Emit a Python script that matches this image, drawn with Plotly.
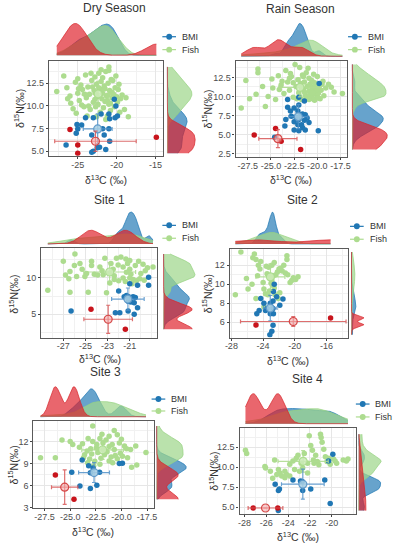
import numpy as np
import plotly.graph_objects as go

# ---------------- data ----------------
panel_titles = ["Dry Season", "Rain Season", "Site 1", "Site 2", "Site 3", "Site 4"]
legend_names = ["BMI", "Fish"]

# (d13C, d15N) pairs
dry_bmi = [(-20.3, 10.75), (-20.1, 10.0), (-19.9, 8.9), (-20.2, 8.7), (-21.0, 9.1), (-22.0, 9.1),
           (-23.0, 8.7), (-24.0, 8.7), (-20.9, 8.6), (-25.1, 7.95), (-24.5, 7.9), (-25.0, 7.45),
           (-25.2, 7.0), (-21.8, 7.5), (-21.0, 7.5), (-23.2, 6.8), (-21.6, 6.8), (-20.9, 6.1),
           (-26.5, 5.7), (-22.5, 5.4), (-22.2, 5.45), (-23.0, 5.0), (-21.4, 5.2), (-23.2, 4.9)]
dry_fish = [(-27.7, 11.6), (-26.8, 13.3), (-26.4, 12.0), (-26.0, 11.1), (-25.9, 10.3), (-25.6, 9.7),
            (-25.3, 12.6), (-25.0, 13.0), (-25.0, 11.4), (-24.8, 10.6), (-24.6, 12.3), (-24.4, 11.8),
            (-24.2, 9.9), (-24.0, 13.4), (-23.9, 10.9), (-23.7, 12.1), (-23.5, 11.3), (-23.4, 9.6),
            (-23.2, 12.8), (-23.0, 10.4), (-22.9, 11.7), (-22.8, 13.2), (-22.7, 9.9), (-22.6, 12.4),
            (-22.5, 11.0), (-22.4, 10.2), (-22.3, 13.6), (-22.2, 11.9), (-22.1, 9.3), (-22.0, 12.7),
            (-21.9, 10.8), (-21.8, 13.1), (-21.8, 11.4), (-21.7, 9.8), (-21.6, 12.2), (-21.5, 10.5),
            (-21.4, 13.8), (-21.3, 11.1), (-21.2, 8.9), (-21.1, 12.5), (-21.0, 14.3), (-21.0, 13.9),
            (-21.0, 10.2), (-20.9, 11.7), (-20.8, 9.5), (-20.7, 12.9), (-20.6, 10.9), (-20.5, 12.8),
            (-20.4, 11.3), (-20.3, 9.9), (-20.2, 12.0), (-20.0, 11.0), (-19.9, 10.4), (-19.8, 11.8),
            (-19.6, 9.3), (-19.5, 10.8), (-19.3, 11.2), (-19.0, 9.6), (-18.8, 10.9), (-18.5, 8.8),
            (-24.5, 10.1), (-23.8, 8.9), (-22.6, 8.8), (-21.4, 8.5), (-25.2, 9.2), (-26.3, 10.8),
            (-23.3, 13.6), (-22.0, 14.0), (-24.9, 11.9), (-20.1, 13.3), (-19.7, 12.4), (-23.6, 10.0),
            (-22.8, 10.7), (-21.9, 11.8), (-21.2, 10.6), (-20.6, 11.5), (-24.1, 11.3), (-23.1, 12.1),
            (-22.3, 12.0), (-21.5, 11.9), (-20.8, 10.3), (-22.7, 11.4), (-21.1, 11.2)]
dry_src = [(-26.0, 7.4), (-25.0, 5.7), (-25.0, 4.8), (-14.9, 6.55)]

rain_bmi = [(-19.8, 11.7), (-22.0, 9.9), (-23.2, 9.6), (-23.2, 8.6), (-22.5, 8.5), (-21.4, 9.4),
            (-22.1, 8.1), (-21.6, 7.7), (-22.8, 7.4), (-22.3, 7.3), (-21.8, 7.6), (-21.3, 7.6),
            (-21.1, 7.2), (-22.0, 7.0), (-21.4, 6.9), (-22.5, 6.7), (-20.9, 6.6), (-22.1, 6.3),
            (-23.5, 6.15), (-21.6, 5.9), (-22.5, 5.6), (-22.0, 5.5), (-21.3, 5.6), (-19.9, 5.5),
            (-24.6, 4.65), (-22.9, 8.1), (-21.7, 6.3), (-22.0, 8.9), (-23.4, 7.0)]
rain_fish = [(-28.2, 8.5), (-27.7, 12.1), (-27.3, 9.7), (-26.6, 10.3), (-26.4, 13.6), (-26.4, 13.1),
             (-25.9, 11.3), (-25.6, 8.7), (-25.3, 10.0), (-24.9, 12.3), (-24.8, 11.1), (-24.5, 9.6),
             (-24.2, 12.7), (-23.9, 11.5), (-23.6, 10.4), (-23.4, 13.4), (-23.2, 11.9), (-23.0, 10.8),
             (-22.8, 12.6), (-22.6, 9.9), (-22.4, 14.2), (-22.3, 11.3), (-22.1, 12.2), (-22.0, 10.5),
             (-21.9, 13.8), (-21.8, 11.7), (-21.7, 9.6), (-21.6, 12.8), (-21.5, 10.9), (-21.4, 11.9),
             (-21.3, 10.2), (-21.2, 13.1), (-21.1, 11.3), (-21.0, 9.8), (-20.9, 12.4), (-20.9, 10.7),
             (-20.8, 11.6), (-20.7, 9.9), (-20.6, 10.9), (-20.6, 12.1), (-20.5, 11.2), (-20.4, 10.3),
             (-20.3, 9.5), (-20.3, 11.8), (-20.2, 10.6), (-20.1, 11.0), (-20.0, 9.9), (-20.0, 12.6),
             (-19.9, 10.4), (-19.8, 11.4), (-19.7, 9.7), (-19.6, 10.8), (-19.4, 12.0), (-19.3, 10.1),
             (-19.1, 11.1), (-18.8, 11.6), (-18.5, 11.2), (-18.2, 10.6), (-17.3, 10.4), (-21.9, 10.0),
             (-21.2, 9.9), (-20.8, 10.2), (-20.5, 9.7), (-22.6, 11.8), (-23.0, 12.4), (-21.5, 12.6),
             (-20.2, 11.6), (-19.9, 9.8), (-21.7, 11.1), (-20.9, 9.6), (-22.2, 9.7), (-23.8, 12.0),
             (-24.1, 10.9), (-20.6, 10.5), (-20.0, 10.9), (-21.4, 10.6), (-19.5, 11.6), (-22.9, 13.0),
             (-21.0, 13.7), (-20.4, 12.9)]
rain_src = [(-26.8, 4.95), (-24.5, 5.8), (-23.9, 4.13), (-21.8, 3.06)]

s1_bmi = [(-19.3, 10.1), (-19.3, 9.0), (-21.0, 9.2), (-20.3, 9.0), (-22.0, 8.2), (-21.3, 7.6),
          (-21.5, 7.4), (-21.1, 7.4), (-20.7, 7.4), (-20.5, 7.3), (-21.15, 6.8), (-20.9, 6.7),
          (-20.6, 6.6), (-20.3, 5.9), (-21.15, 5.45), (-20.6, 5.0), (-22.3, 5.2), (-21.9, 5.2),
          (-26.3, 5.45)]
s1_fish = [(-25.95, 13.3), (-27.0, 12.3), (-24.45, 12.3), (-23.25, 12.7), (-22.2, 12.7), (-21.35, 12.6),
           (-21.0, 12.4), (-26.4, 10.9), (-26.8, 10.4), (-26.5, 9.9), (-25.8, 10.2), (-25.05, 10.2),
           (-24.45, 11.7), (-23.7, 11.5), (-23.4, 10.45), (-22.8, 10.7), (-22.5, 11.2), (-22.05, 11.8),
           (-21.6, 11.5), (-21.0, 11.2), (-20.5, 11.7), (-19.8, 11.9), (-19.4, 11.4), (-18.9, 11.5),
           (-21.0, 10.0), (-20.7, 9.8), (-20.4, 9.6), (-20.1, 9.9), (-19.7, 9.7), (-22.8, 9.3),
           (-23.1, 7.95), (-24.75, 8.05), (-26.4, 8.05), (-28.4, 8.3), (-22.0, 9.6), (-21.6, 10.0),
           (-21.3, 10.8), (-20.9, 10.5), (-22.4, 10.3), (-23.9, 10.4), (-24.2, 10.5), (-25.3, 11.2),
           (-22.7, 12.0), (-21.8, 12.9), (-21.2, 12.0), (-20.2, 12.3), (-19.6, 11.0), (-20.0, 10.6),
           (-22.4, 9.8), (-21.4, 9.5), (-20.8, 9.2), (-24.9, 10.6), (-23.5, 11.0), (-26.0, 11.7),
           (-25.5, 12.0)]
s1_src = [(-24.5, 5.68), (-21.4, 2.95)]

s2_bmi = [(-22.6, 10.0), (-22.7, 9.25), (-22.3, 8.7), (-22.75, 8.25), (-24.3, 8.5), (-23.9, 8.0),
          (-23.1, 8.0), (-21.5, 8.45), (-21.9, 7.8), (-23.5, 7.45), (-22.75, 7.45), (-24.5, 7.25),
          (-23.7, 7.25), (-24.8, 6.9), (-23.1, 6.9), (-22.7, 6.9), (-22.75, 5.7), (-22.9, 5.05),
          (-23.15, 4.7)]
s2_fish = [(-26.8, 13.4), (-25.1, 13.2), (-24.9, 12.6), (-24.3, 12.4), (-24.6, 12.0), (-22.9, 12.0),
           (-21.0, 13.0), (-21.0, 12.6), (-21.4, 12.0), (-21.8, 11.7), (-27.5, 8.9), (-26.1, 10.6),
           (-25.9, 9.5), (-25.4, 10.0), (-24.7, 10.9), (-23.5, 11.1), (-23.1, 10.75), (-22.9, 10.4),
           (-22.8, 9.9), (-23.9, 9.5), (-23.7, 9.0), (-23.2, 9.3), (-22.6, 9.6), (-20.2, 10.7),
           (-19.6, 10.8), (-19.9, 10.5), (-20.6, 10.2), (-22.1, 8.5), (-23.9, 7.6), (-24.9, 8.5),
           (-22.2, 11.3), (-22.4, 11.0), (-22.0, 11.6), (-21.6, 11.4), (-23.0, 10.1), (-22.7, 10.9),
           (-21.2, 11.2), (-20.4, 10.4), (-23.4, 8.9), (-24.0, 10.2), (-22.5, 8.9), (-21.9, 9.1),
           (-23.3, 11.8), (-22.6, 12.3), (-25.3, 12.8), (-24.4, 11.6), (-23.6, 11.9), (-20.9, 11.0)]
s2_src = [(-24.9, 5.72), (-15.5, 6.45)]

s3_bmi = [(-23.83, 9.48), (-24.85, 7.8), (-23.2, 8.68), (-22.77, 8.37), (-23.03, 7.75), (-22.13, 7.8),
          (-19.9, 9.04), (-20.2, 9.0), (-24.05, 5.94), (-22.4, 6.03), (-23.03, 5.58)]
s3_fish = [(-22.8, 14.1), (-21.2, 12.7), (-20.7, 13.5), (-20.4, 12.9), (-25.8, 12.2), (-25.0, 12.0),
           (-24.75, 11.6), (-23.25, 12.4), (-22.8, 12.0), (-22.1, 12.4), (-21.8, 11.8), (-22.45, 11.1),
           (-23.35, 10.7), (-23.0, 11.0), (-23.6, 10.2), (-21.8, 10.9), (-21.2, 11.3), (-20.7, 10.9),
           (-19.7, 11.4), (-20.2, 11.8), (-19.1, 10.9), (-18.6, 11.4), (-17.6, 10.5), (-27.9, 9.8),
           (-26.45, 9.8), (-23.7, 9.8), (-23.1, 9.6), (-22.6, 9.3), (-22.1, 8.9), (-21.65, 10.2),
           (-21.2, 9.35), (-20.85, 9.1), (-20.4, 9.65), (-19.9, 10.0), (-19.4, 9.8), (-18.5, 8.8),
           (-19.0, 8.5), (-21.0, 9.9), (-22.3, 10.5), (-22.9, 10.3), (-24.1, 11.2), (-21.5, 12.2),
           (-20.0, 12.3), (-20.9, 11.6), (-22.4, 11.6), (-23.8, 11.7), (-21.4, 10.6), (-20.1, 10.4),
           (-22.0, 9.7), (-23.3, 9.1), (-22.7, 8.7), (-19.5, 11.0), (-21.9, 13.0), (-20.6, 10.1)]
s3_src = [(-26.45, 7.44), (-24.63, 4.12)]

s4_bmi = [(-19.91, 11.61), (-20.3, 10.77), (-25.19, 7.86), (-24.8, 7.26), (-24.89, 7.06),
          (-23.56, 8.39), (-22.87, 8.27), (-22.72, 8.19), (-22.67, 7.06), (-21.93, 7.26),
          (-20.65, 8.39), (-20.15, 5.44), (-24.9, 4.56)]
s4_fish = [(-27.91, 12.1), (-27.8, 11.7), (-26.13, 10.08), (-26.07, 9.88), (-25.24, 10.89), (-25.42, 8.59),
           (-24.89, 9.68), (-24.74, 9.27), (-24.3, 9.48), (-24.15, 9.07), (-23.85, 10.36), (-23.56, 10.77),
           (-23.26, 11.09), (-23.1, 11.49), (-22.81, 10.48), (-22.67, 9.88), (-22.52, 11.69), (-22.22, 10.48),
           (-22.07, 13.91), (-21.93, 12.7), (-21.78, 12.1), (-21.69, 10.89), (-21.63, 10.48), (-21.48, 11.49),
           (-21.33, 10.69), (-21.19, 10.28), (-21.04, 14.11), (-20.98, 13.71), (-20.89, 13.1), (-20.74, 12.22),
           (-20.59, 11.29), (-20.44, 10.69), (-20.3, 11.09), (-20.15, 10.36), (-19.85, 11.01), (-19.7, 10.77),
           (-19.56, 10.48), (-18.96, 10.89), (-18.67, 10.77), (-18.52, 11.01), (-22.22, 9.27), (-22.96, 9.48),
           (-23.41, 9.68), (-23.85, 8.87), (-24.3, 8.67), (-24.59, 8.87), (-25.04, 9.07), (-25.63, 9.48)]
s4_src = [(-27.2, 4.88), (-24.95, 4.88)]

# axis ticks
dry_xticks = [-25, -20, -15]
dry_yticks = [5.0, 7.5, 10.0, 12.5]
rain_xticks = [-27.5, -25.0, -22.5, -20.0, -17.5]
rain_yticks = [2.5, 5.0, 7.5, 10.0, 12.5]
s1_xticks = [-27, -25, -23, -21]
s1_yticks = [5, 10]
s2_xticks = [-28, -24, -20, -16]
s2_yticks = [6, 8, 10, 12]
s3_xticks = [-27.5, -25.0, -22.5, -20.0, -17.5]
s3_yticks = [3, 6, 9, 12]
s4_xticks = [-28, -26, -24, -22, -20]
s4_yticks = [5.0, 7.5, 10.0, 12.5]

# ---------------- layout (pixels of a 397 x 550 page) ----------------
W, H = 397, 550
panels = [
    dict(data=(dry_bmi, dry_fish, dry_src), xt=dry_xticks, yt=dry_yticks, xd=0, yd=1,
         main=(45, 162, 61, 157), top=(45, 162, 22, 57), right=(165, 196, 61, 157),
         xr=(-28.7, -14.0), yr=(4.5, 15.0), title=(112, 8), xtit=(103, 181), ytit=(14, 109),
         leg=(168, 37, 50)),
    dict(data=(rain_bmi, rain_fish, rain_src), xt=rain_xticks, yt=rain_yticks, xd=1, yd=1,
         main=(236, 350, 61, 158), top=(236, 350, 22, 58), right=(354, 393, 61, 158),
         xr=(-28.8, -16.8), yr=(2.1, 14.7), title=(302, 9), xtit=(293, 181), ytit=(206, 110),
         leg=(358, 37, 50)),
    dict(data=(s1_bmi, s1_fish, s1_src), xt=s1_xticks, yt=s1_yticks, xd=0, yd=0,
         main=(37, 156, 250, 340), top=(37, 156, 212, 247), right=(161, 196, 250, 340),
         xr=(-29.0, -18.5), yr=(1.8, 14.1), title=(107, 201), xtit=(97, 361), ytit=(9, 296),
         leg=(168, 227, 240)),
    dict(data=(s2_bmi, s2_fish, s2_src), xt=s2_xticks, yt=s2_yticks, xd=0, yd=0,
         main=(230, 351, 251, 340), top=(230, 351, 212, 247), right=(354, 368, 251, 340),
         xr=(-28.2, -13.3), yr=(4.4, 13.7), title=(304, 201), xtit=(290, 363), ytit=(207, 296),
         leg=(360, 228, 241)),
    dict(data=(s3_bmi, s3_fish, s3_src), xt=s3_xticks, yt=s3_yticks, xd=1, yd=0,
         main=(29, 152, 424, 512), top=(29, 152, 388, 421), right=(154, 187, 424, 512),
         xr=(-28.6, -16.86), yr=(2.9, 14.8), title=(103, 375), xtit=(90, 535), ytit=(8, 468),
         leg=(157, 402, 414)),
    dict(data=(s4_bmi, s4_fish, s4_src), xt=s4_xticks, yt=s4_yticks, xd=0, yd=1,
         main=(240, 359, 431, 518), top=(240, 359, 395, 428), right=(361, 386, 431, 518),
         xr=(-28.45, -17.8), yr=(4.1, 14.9), title=(310, 382), xtit=(300, 540), ytit=(213, 475),
         leg=(366, 407, 420)),
]

FONT = "Liberation Sans, Arial, sans-serif"
PT_COL = ["#2077b4", "#addc8f", "#c8141c"]            # BMI, Fish, source
DEN_COL = ["rgba(31,120,180,0.68)", "rgba(160,215,140,0.72)", "rgba(222,30,40,0.68)"]
DEN_LINE = ["rgba(31,120,180,0.9)", "rgba(150,210,130,0.9)", "rgba(215,40,45,0.9)"]
MEAN_FILL = ["rgba(166,206,227,0.85)", "rgba(205,235,185,0.85)", "rgba(245,170,170,0.6)"]
MEAN_LINE = ["rgba(90,150,200,0.9)", "rgba(170,220,140,0.9)", "rgba(210,60,60,0.9)"]
ERR_COL = ["rgba(80,145,200,0.85)", "rgba(175,220,145,0.9)", "rgba(215,85,85,0.85)"]


def bw_nrd0(v):
    v = np.asarray(v, float)
    hi = v.std(ddof=1)
    q75, q25 = np.percentile(v, [75, 25])
    lo = min(hi, (q75 - q25) / 1.34)
    if lo <= 0:
        lo = hi if hi > 0 else (abs(v[0]) if v[0] != 0 else 1.0)
    return 0.9 * lo * len(v) ** -0.2


def kde(v, grid):
    v = np.asarray(v, float)
    bw = bw_nrd0(v)
    z = (grid[:, None] - v[None, :]) / bw
    return np.exp(-0.5 * z ** 2).sum(axis=1) / (len(v) * bw * np.sqrt(2 * np.pi))


def px_dom_x(a, b):
    return [a / W, b / W]


def px_dom_y(a, b):
    return [1 - b / H, 1 - a / H]


def minor_vals(ticks, rng):
    step = ticks[1] - ticks[0]
    out = []
    v = ticks[0] - step / 2
    while v > rng[0]:
        v -= step
    while v < rng[1]:
        if rng[0] <= v <= rng[1] and all(abs(v - t) > 1e-9 for t in ticks):
            out.append(v)
        v += step / 2
    return out


fig = go.Figure()
layout = dict(width=W, height=H, margin=dict(l=0, r=0, t=0, b=0), paper_bgcolor="white",
              plot_bgcolor="white", showlegend=False, font=dict(family=FONT, color="#333333"))
annotations = []
shapes = []

for i, p in enumerate(panels):
    nm, nt, nr = 3 * i + 1, 3 * i + 2, 3 * i + 3
    ref = lambda n: ("" if n == 1 else str(n))
    groups = p["data"]
    xs = [np.array([q[0] for q in g]) for g in groups]
    ys = [np.array([q[1] for q in g]) for g in groups]

    # main axes
    x0, x1, y0, y1 = p["main"]
    fmtx = "{:.%df}" % p["xd"]
    fmty = "{:.%df}" % p["yd"]
    common = dict(showline=True, linecolor="#5a5a5a", linewidth=1.3, mirror=True,
                  showgrid=True, gridcolor="#e6e6e6", gridwidth=0.9, zeroline=False,
                  ticks="outside", ticklen=2, tickcolor="#444", tickwidth=0.8,
                  tickfont=dict(size=9, color="#4d4d4d", family=FONT), tickmode="array")
    layout["xaxis" + ref(nm)] = dict(domain=px_dom_x(x0, x1), anchor="y" + ref(nm), range=list(p["xr"]),
                                     tickvals=p["xt"], ticktext=[fmtx.format(t) for t in p["xt"]],
                                     ticklabelstandoff=-2,
                                     minor=dict(tickvals=minor_vals(p["xt"], p["xr"]), showgrid=True,
                                                gridcolor="#f1f1f1", gridwidth=0.6, ticks=""),
                                     **common)
    layout["yaxis" + ref(nm)] = dict(domain=px_dom_y(y0, y1), anchor="x" + ref(nm), range=list(p["yr"]),
                                     tickvals=p["yt"], ticktext=[fmty.format(t) for t in p["yt"]],
                                     minor=dict(tickvals=minor_vals(p["yt"], p["yr"]), showgrid=True,
                                                gridcolor="#f1f1f1", gridwidth=0.6, ticks=""),
                                     **common)

    # points: Fish, BMI, source
    for gi in (1, 0, 2):
        fig.add_trace(go.Scatter(x=xs[gi], y=ys[gi], mode="markers", xaxis="x" + ref(nm), yaxis="y" + ref(nm),
                                 marker=dict(size=5.5, color=PT_COL[gi], line=dict(width=0)),
                                 name=(legend_names + ["source"])[gi], hoverinfo="skip"))
    # means with SD error bars
    for gi in (1, 0, 2):
        mx, my = xs[gi].mean(), ys[gi].mean()
        sx = xs[gi].std(ddof=1) if len(xs[gi]) > 1 else 0.0
        sy = ys[gi].std(ddof=1) if len(ys[gi]) > 1 else 0.0
        fig.add_trace(go.Scatter(x=[mx], y=[my], mode="markers", xaxis="x" + ref(nm), yaxis="y" + ref(nm),
                                 marker=dict(size=8, color=MEAN_FILL[gi], line=dict(color=MEAN_LINE[gi], width=1.2)),
                                 error_x=dict(type="data", array=[sx], color=ERR_COL[gi], thickness=1.2, width=2),
                                 error_y=dict(type="data", array=[sy], color=ERR_COL[gi], thickness=1.2, width=2),
                                 hoverinfo="skip", showlegend=False))

    # marginal densities
    allx = np.concatenate(xs)
    ally = np.concatenate(ys)
    gx = np.linspace(allx.min(), allx.max(), 400)
    gy = np.linspace(ally.min(), ally.max(), 400)
    dx = [kde(v, gx) for v in xs]
    dy = [kde(v, gy) for v in ys]
    mxd = max(d.max() for d in dx)
    myd = max(d.max() for d in dy)

    tx0, tx1, ty0, ty1 = p["top"]
    layout["xaxis" + ref(nt)] = dict(domain=px_dom_x(tx0, tx1), anchor="y" + ref(nt), range=list(p["xr"]),
                                     visible=False, showgrid=False)
    layout["yaxis" + ref(nt)] = dict(domain=px_dom_y(ty0, ty1), anchor="x" + ref(nt),
                                     range=[-0.04 * mxd, 1.05 * mxd], visible=False, showgrid=False)
    rx0, rx1, ry0, ry1 = p["right"]
    layout["xaxis" + ref(nr)] = dict(domain=px_dom_x(rx0, rx1), anchor="y" + ref(nr),
                                     range=[-0.04 * myd, 1.05 * myd], visible=False, showgrid=False)
    layout["yaxis" + ref(nr)] = dict(domain=px_dom_y(ry0, ry1), anchor="x" + ref(nr), range=list(p["yr"]),
                                     visible=False, showgrid=False)
    for gi in (0, 1, 2):
        fig.add_trace(go.Scatter(x=gx, y=dx[gi], mode="lines", fill="tozeroy", fillcolor=DEN_COL[gi],
                                 line=dict(color=DEN_LINE[gi], width=0.8), xaxis="x" + ref(nt),
                                 yaxis="y" + ref(nt), hoverinfo="skip", showlegend=False))
        fig.add_trace(go.Scatter(x=dy[gi], y=gy, mode="lines", fill="tozerox", fillcolor=DEN_COL[gi],
                                 line=dict(color=DEN_LINE[gi], width=0.8), xaxis="x" + ref(nr),
                                 yaxis="y" + ref(nr), hoverinfo="skip", showlegend=False))

    # titles
    tx, ty = p["title"]
    annotations.append(dict(text=panel_titles[i], x=tx / W, y=1 - ty / H, xref="paper", yref="paper",
                            showarrow=False, font=dict(size=12, color="#333"), xanchor="center", yanchor="middle"))
    ax_, ay_ = p["xtit"]
    annotations.append(dict(text="\u03b4<sup>13</sup>C (\u2030)", x=ax_ / W, y=1 - ay_ / H, xref="paper",
                            yref="paper", showarrow=False, font=dict(size=10.5, color="#333"),
                            xanchor="center", yanchor="middle"))
    bx_, by_ = p["ytit"]
    annotations.append(dict(text="\u03b4<sup>15</sup>N(\u2030)", x=bx_ / W, y=1 - by_ / H, xref="paper",
                            yref="paper", showarrow=False, font=dict(size=10.5, color="#333"), textangle=-90,
                            xanchor="center", yanchor="middle"))
    # legend keys (BMI, Fish)
    lx, lyb, lyf = p["leg"]
    for gi, ly in ((0, lyb), (1, lyf)):
        shapes.append(dict(type="line", xref="paper", yref="paper", x0=(lx - 7) / W, x1=(lx + 7) / W,
                           y0=1 - ly / H, y1=1 - ly / H, line=dict(color=PT_COL[gi], width=1.2)))
        shapes.append(dict(type="circle", xref="paper", yref="paper", x0=(lx - 3) / W, x1=(lx + 3) / W,
                           y0=1 - (ly + 3) / H, y1=1 - (ly - 3) / H, fillcolor=PT_COL[gi],
                           line=dict(color=PT_COL[gi], width=0)))
        annotations.append(dict(text=legend_names[gi], x=(lx + 11) / W, y=1 - ly / H, xref="paper",
                                yref="paper", showarrow=False, font=dict(size=9, color="#333"),
                                xanchor="left", yanchor="middle"))

layout["annotations"] = annotations
layout["shapes"] = shapes
fig.update_layout(**layout)
fig.write_html("out.html", config={"displayModeBar": False},
               post_script="document.body.style.margin='0';document.body.style.overflow='hidden';")
